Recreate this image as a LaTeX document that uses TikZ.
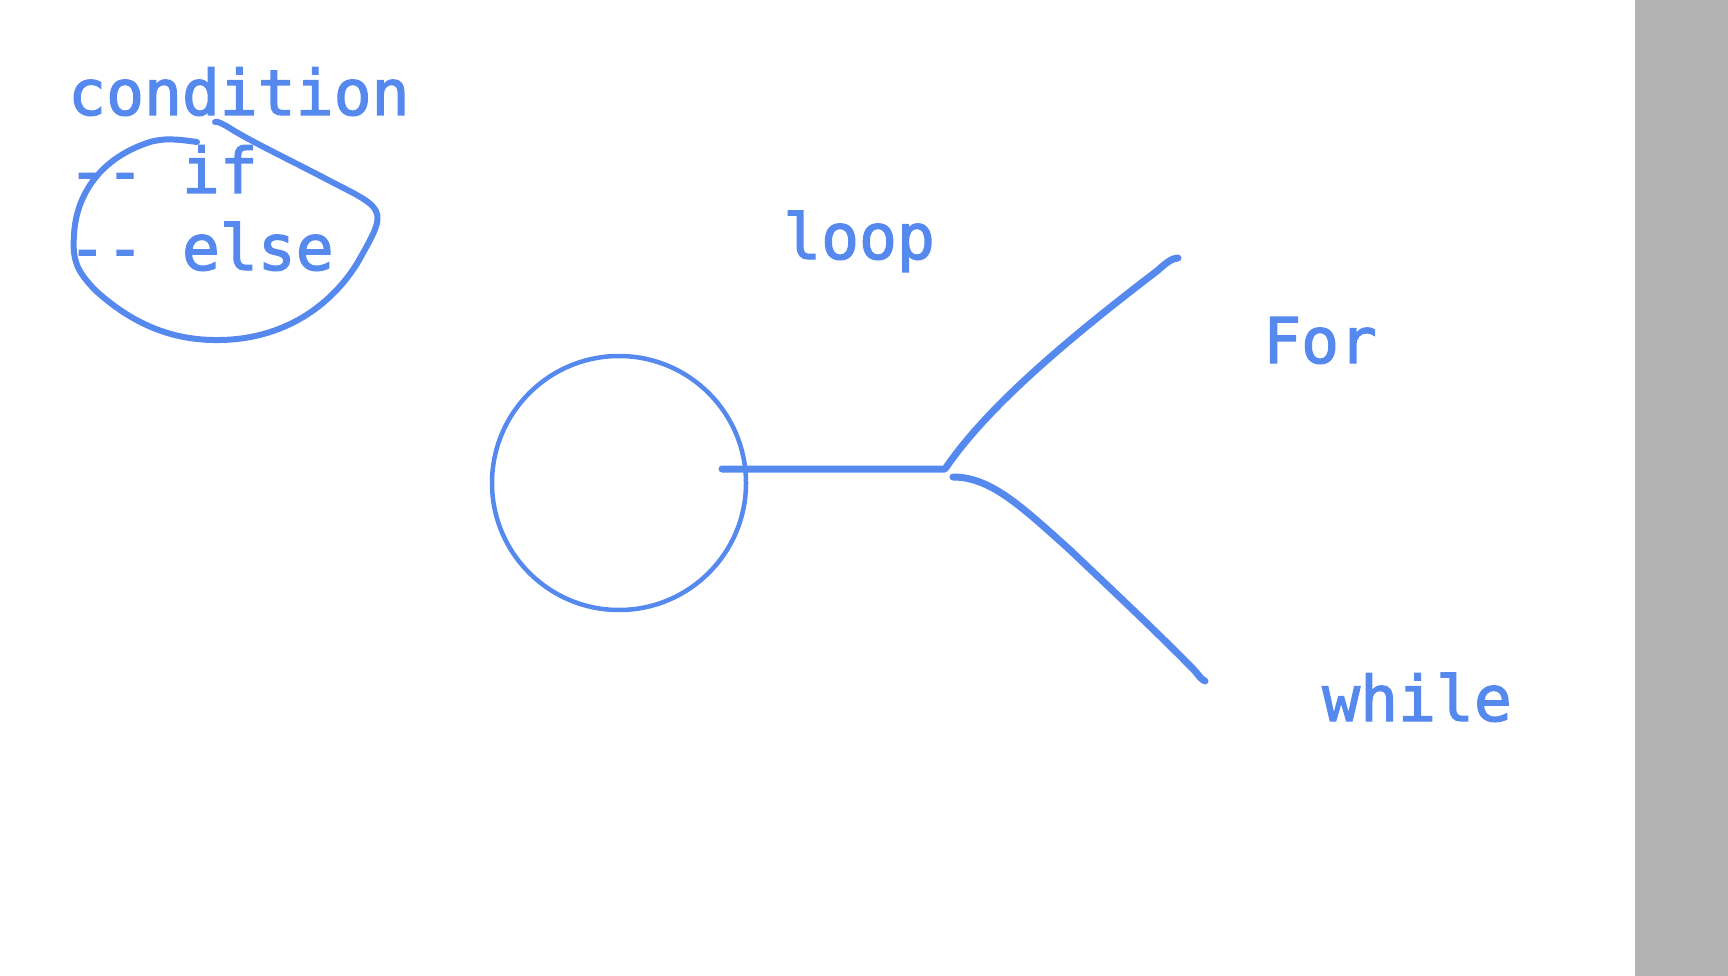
\documentclass[tikz,border=0pt]{standalone}
\usepackage{fontspec}
\newfontfamily\monofont{DejaVu Sans Mono}[Ligatures=TeXOff, FakeBold=2]
\definecolor{ink}{RGB}{86,137,238}
\definecolor{barc}{RGB}{179,179,179}
\begin{document}
\begin{tikzpicture}[x=1pt,y=-1pt,
  txt/.style={font=\monofont\fontsize{63}{63}\selectfont, text=ink, inner sep=0pt, anchor=base west},
  pen/.style={draw=ink, line cap=round, line join=round}]
\useasboundingbox (0,0) rectangle (1728,976);
\fill[barc] (1635,0) rectangle (1728,976);
% texts
\node[txt] (cond) at (68,115) {condition};
\node[txt] (if) at (68,193) {-- if};
\node[txt] (else) at (68,270) {-- else};
\node[txt] (loop) at (783,259) {loop};
\node[txt] (for) at (1263,363) {For};
\node[txt] (while) at (1322,721) {while};
% circle
\node[pen, line width=4.5pt, circle, minimum size=254pt, inner sep=0pt] (ring) at (619,483) {};
% lasso
\coordinate (lassoA) at (197,142);
\coordinate (lassoB) at (215,122);
\draw[pen, line width=6pt] (lassoA) .. controls (175,139) and (165,138) .. (150,142)
  .. controls (100,158) and (76,195) .. (74,235)
  .. controls (72,262) and (78,272) .. (95,290)
  .. controls (130,322) and (170,341) .. (220,340)
  .. controls (290,339) and (335,300) .. (358,262)
  .. controls (370,240) and (382,222) .. (376,211)
  .. controls (371,201) and (355,194) .. (330,181)
  .. controls (290,160) and (248,140) .. (228,127)
  .. controls (221,123) and (217,121) .. (lassoB);
% branches
\coordinate (hs) at (722,469);
\coordinate (fork) at (945,469);
\coordinate (forend) at (1178,258);
\coordinate (lowstart) at (953,477);
\coordinate (whileend) at (1205,681);
\draw[pen, line width=7pt] (hs) -- (fork)
  .. controls (985,410) and (1060,345) .. (1157,271)
  .. controls (1166,263) and (1172,258) .. (forend);
\draw[pen, line width=7pt] (lowstart) .. controls (990,477) and (1020,505) .. (1070,550)
  .. controls (1110,588) and (1160,635) .. (1195,671)
  .. controls (1199,676) and (1202,680) .. (whileend);
\end{tikzpicture}
\end{document}
